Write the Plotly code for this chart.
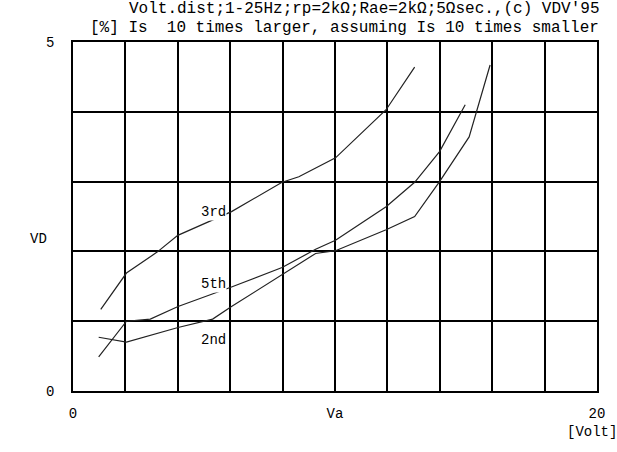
import plotly.graph_objects as go

# data (Volt, %)
x_3rd = [1.06, 2.04, 3.21, 4.0, 6.05, 7.98, 8.62, 10.02, 11.95, 13.04]
y_3rd = [1.17, 1.69, 1.99, 2.23, 2.57, 2.99, 3.07, 3.34, 4.03, 4.64]

x_5th = [0.98, 1.51, 2.04, 2.95, 4.01, 6.05, 7.98, 9.26, 10.02, 11.95, 13.04, 13.99, 14.97]
y_5th = [0.49, 0.74, 1.0, 1.03, 1.21, 1.49, 1.77, 2.03, 2.16, 2.64, 2.99, 3.43, 4.1]

x_2nd = [0.98, 2.04, 4.01, 5.33, 6.05, 7.98, 9.26, 10.02, 11.95, 13.04, 13.99, 15.12, 15.43, 15.92]
y_2nd = [0.77, 0.70, 0.91, 1.03, 1.21, 1.67, 1.97, 2.01, 2.31, 2.5, 3.0, 3.64, 4.03, 4.67]

x_tickvals = [0, 10, 20]
x_ticktext = ["0", "Va", "20"]
y_tickvals = [0, 5]
y_ticktext = ["0", "5"]

labels = [("3rd", 5.35, 2.57), ("5th", 5.37, 1.53), ("2nd", 5.37, 0.73)]

title1 = "Volt.dist;1-25Hz;rp=2kΩ;Rae=2kΩ;5Ωsec.,(c) VDV'95"
title2 = "[%] Is  10 times larger, assuming Is 10 times smaller"

FONT = "Liberation Mono"
fig = go.Figure()
for xs, ys in [(x_3rd, y_3rd), (x_5th, y_5th), (x_2nd, y_2nd)]:
    fig.add_trace(go.Scatter(x=xs, y=ys, mode="lines",
                             line=dict(color="#222222", width=1.2),
                             showlegend=False, hoverinfo="skip"))

for t, lx, ly in labels:
    fig.add_annotation(x=lx, y=ly, text=t, showarrow=False,
                       font=dict(family=FONT, size=14, color="black"),
                       bgcolor="white", borderpad=0)

fig.add_annotation(xref="paper", yref="paper", x=1.0076, y=1.095, text=title1,
                   showarrow=False, xanchor="right", yanchor="middle",
                   font=dict(family=FONT, size=16, color="black"))
fig.add_annotation(xref="paper", yref="paper", x=1.0076, y=1.040, text=title2,
                   showarrow=False, xanchor="right", yanchor="middle",
                   font=dict(family=FONT, size=16, color="black"))
fig.add_annotation(xref="paper", yref="paper", x=-0.065, y=0.435, text="VD",
                   showarrow=False, xanchor="center", yanchor="middle",
                   font=dict(family=FONT, size=14, color="black"))
fig.add_annotation(xref="paper", yref="paper", x=0.99, y=-0.118, text="[Volt]",
                   showarrow=False, xanchor="center", yanchor="middle",
                   font=dict(family=FONT, size=14, color="black"))

fig.update_xaxes(range=[0, 20], tickvals=x_tickvals, ticktext=x_ticktext,
                 showgrid=True, gridcolor="black", gridwidth=1.5,
                 minor=dict(dtick=2, tick0=0, showgrid=True, gridcolor="black", gridwidth=1.5),
                 showline=True, linecolor="black", linewidth=1.5, mirror=True,
                 zeroline=False, ticks="", ticklabelstandoff=8,
                 tickfont=dict(family=FONT, size=14, color="black"))
fig.update_yaxes(range=[0, 5], tickvals=y_tickvals, ticktext=y_ticktext,
                 showgrid=True, gridcolor="black", gridwidth=1.5,
                 minor=dict(dtick=1, tick0=0, showgrid=True, gridcolor="black", gridwidth=1.5),
                 showline=True, linecolor="black", linewidth=1.5, mirror=True,
                 zeroline=False, ticks="", ticklabelstandoff=14,
                 tickfont=dict(family=FONT, size=14, color="black"))

fig.update_layout(width=617, height=452, margin=dict(l=73, r=16, t=42, b=61),
                  plot_bgcolor="white", paper_bgcolor="white")
fig.write_html("out.html")
